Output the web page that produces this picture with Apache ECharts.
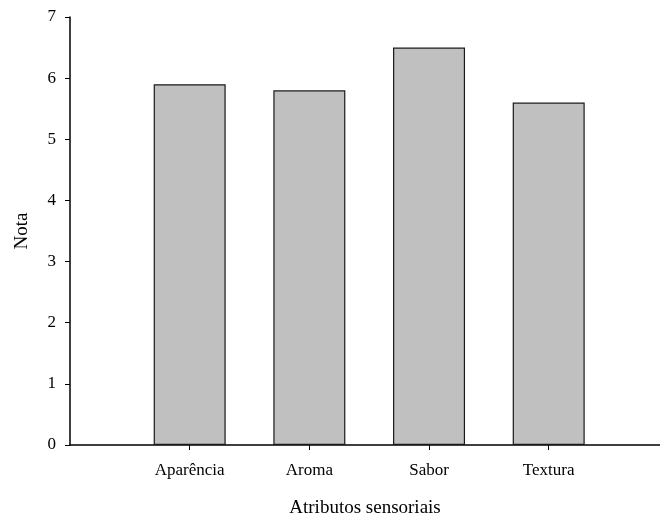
<!DOCTYPE html>
<html>
<head>
<meta charset="utf-8">
<script src="https://cdn.jsdelivr.net/npm/echarts@6/dist/echarts.min.js"></script>
<style>
html,body{margin:0;padding:0;background:#fff;}
#main{width:660px;height:516px;}
</style>
</head>
<body>
<div id="main"></div>
<script>
// atributos e notas
var categorias = ['Aparência', 'Aroma', 'Sabor', 'Textura'];
var posicoes = [1, 2, 3, 4];
var notas = [5.9, 5.8, 6.5, 5.6];

var chart = echarts.init(document.getElementById('main'));
var dados = [];
for (var i = 0; i < notas.length; i++) {
    dados.push([posicoes[i], notas[i]]);
}
var fonte = '"Liberation Serif", "DejaVu Serif", serif';
var option = {
    animation: false,
    grid: {left: 70, right: 0, top: 17, bottom: 71, containLabel: false, outerBoundsMode: 'none'},
    xAxis: {
        type: 'value',
        min: 0,
        max: 4.93,
        interval: 1,
        name: 'Atributos sensoriais',
        nameLocation: 'middle',
        nameGap: 54,
        nameTextStyle: {fontFamily: fonte, fontSize: 19, color: '#000'},
        axisLine: {show: true, lineStyle: {color: '#000', width: 1.5}},
        axisTick: {show: true, length: 5, lineStyle: {color: '#000'}, customValues: posicoes},
        splitLine: {show: false},
        axisLabel: {
            fontFamily: fonte, fontSize: 17, color: '#000', margin: 17,
            customValues: posicoes,
            formatter: function (v) {
                var k = posicoes.indexOf(v);
                return k >= 0 ? categorias[k] : '';
            }
        }
    },
    yAxis: {
        type: 'value',
        min: 0,
        max: 7,
        interval: 1,
        name: 'Nota',
        nameLocation: 'middle',
        nameGap: 38,
        nameTextStyle: {fontFamily: fonte, fontSize: 19, color: '#000'},
        axisLine: {show: true, lineStyle: {color: '#000', width: 1.5}},
        axisTick: {show: true, length: 5, lineStyle: {color: '#000'}},
        splitLine: {show: false},
        axisLabel: {fontFamily: fonte, fontSize: 17, color: '#000', margin: 14}
    },
    series: [{
        type: 'bar',
        data: dados,
        barWidth: 72,
        itemStyle: {color: '#c0c0c0', borderColor: '#1a1a1a', borderWidth: 1.2}
    }]
};
chart.setOption(option);
</script>
</body>
</html>
